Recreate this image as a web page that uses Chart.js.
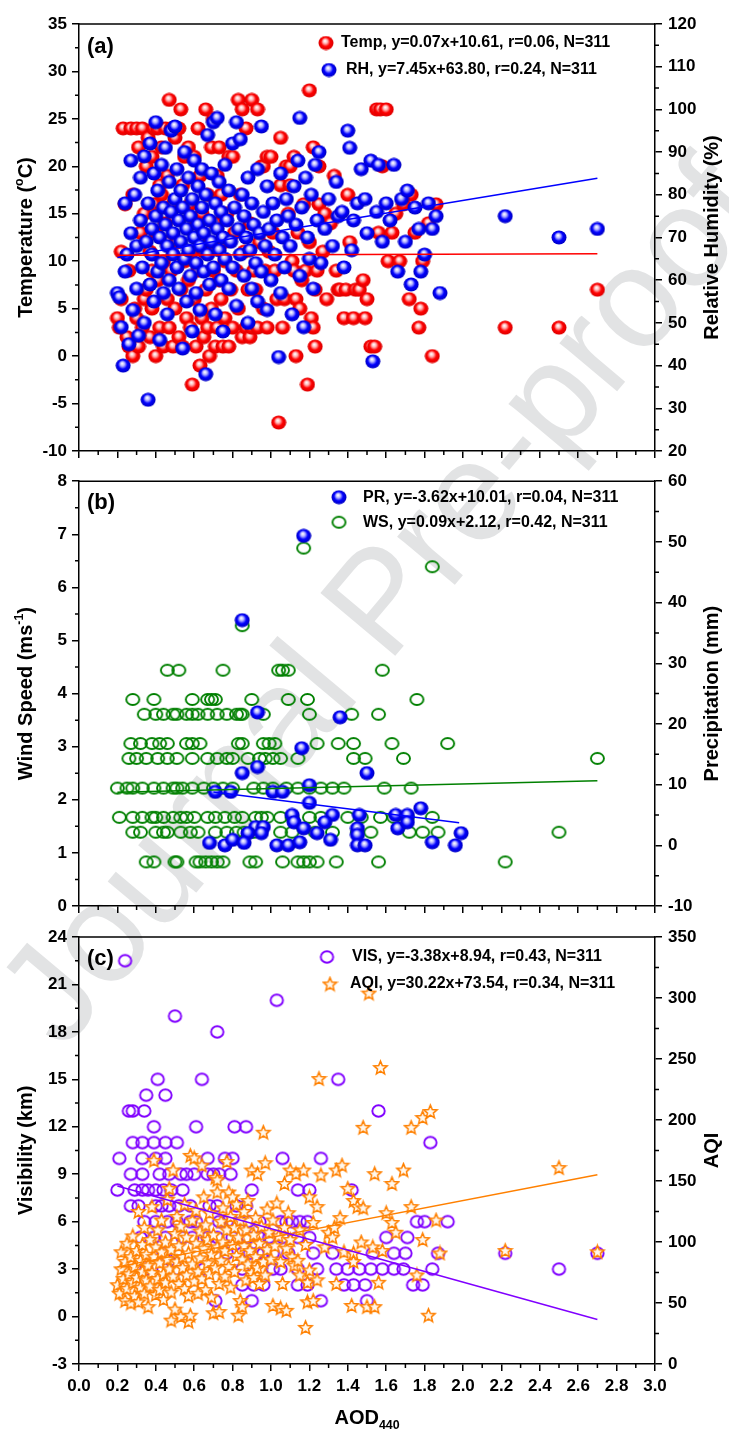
<!DOCTYPE html>
<html>
<head>
<meta charset="utf-8">
<script src="https://cdn.jsdelivr.net/npm/chart.js@4.4.0/dist/chart.umd.min.js"></script>
<style>
html, body { margin: 0; padding: 0; background: #fff; }
#page { position: relative; width: 729px; height: 1431px; overflow: hidden; }
#wm { position: absolute; left: 378px; top: 600px; transform: translate(-50%, -50%) rotate(-50deg);
      font: 142px 'Liberation Sans', Arial, sans-serif; color: #e2e3e4; white-space: nowrap; }
.panel { position: absolute; left: 0; }
</style>
</head>
<body>
<div id="page">
  <div id="wm">Journal Pre-proof</div>
  <canvas id="chartA" class="panel" width="729" height="470" style="top:0"></canvas>
  <canvas id="chartB" class="panel" width="729" height="465" style="top:465px"></canvas>
  <canvas id="chartC" class="panel" width="729" height="511" style="top:920px"></canvas>
</div>
<script>
/* AOD440 vs. meteorology / visibility / AQI — three stacked scatter panels */

const FONT = "'Liberation Sans', Arial, sans-serif";

// x axis (AOD440)
const xTicks = [0, 0.2, 0.4, 0.6, 0.8, 1.0, 1.2, 1.4, 1.6, 1.8, 2.0, 2.2, 2.4, 2.6, 2.8, 3.0];
const xMinor = [0.1, 0.3, 0.5, 0.7, 0.9, 1.1, 1.3, 1.5, 1.7, 1.9, 2.1, 2.3, 2.5, 2.7, 2.9];

// panel (a)
const tempTicks = [-10, -5, 0, 5, 10, 15, 20, 25, 30, 35];
const tempMinor = [-7.5, -2.5, 2.5, 7.5, 12.5, 17.5, 22.5, 27.5, 32.5];
const rhTicks = [20, 30, 40, 50, 60, 70, 80, 90, 100, 110, 120];
const rhMinor = [25, 35, 45, 55, 65, 75, 85, 95, 105, 115];
const tempPts = [
  [0.20,4],[0.21,3],[0.22,11],[0.23,24],[0.24,16],[0.25,2],[0.26,1],[0.27,24],[0.28,0],[0.29,5],[0.30,24],[0.31,22],
  [0.32,13],[0.33,3],[0.33,24],[0.34,6],[0.35,7],[0.35,20],[0.22,6],[0.26,9],[0.28,17],[0.30,4],[0.31,1],[0.34,15],
  [0.36,23],[0.37,2],[0.37,11],[0.38,21],[0.38,5],[0.39,24],[0.40,0],[0.40,13],[0.41,8],[0.41,24],[0.42,3],[0.43,22],
  [0.43,17],[0.44,1],[0.44,10],[0.45,14],[0.45,24],[0.46,6],[0.46,19],[0.47,27],[0.47,3],[0.48,9],[0.48,24],[0.49,1],
  [0.49,16],[0.50,23],[0.50,5],[0.38,9],[0.42,18],[0.46,12],[0.39,16],
  [0.51,12],[0.52,24],[0.52,2],[0.53,26],[0.53,7],[0.54,1],[0.54,18],[0.55,21],[0.55,10],[0.56,4],[0.56,14],[0.57,22],
  [0.57,8],[0.58,3],[0.58,16],[0.59,-3],[0.59,11],[0.60,21],[0.60,6],[0.61,1],[0.61,13],[0.62,24],[0.62,9],[0.63,-1],
  [0.63,19],[0.64,4],[0.64,15],[0.65,2],[0.65,11],[0.66,26],[0.66,7],[0.67,3],[0.67,17],[0.68,0],[0.68,12],[0.69,22],
  [0.69,5],[0.70,25],[0.70,9],
  [0.71,1],[0.71,14],[0.72,3],[0.72,19],[0.73,22],[0.73,8],[0.74,6],[0.74,17],[0.75,1],[0.75,12],[0.76,4],[0.76,10],
  [0.77,15],[0.78,21],[0.78,1],[0.79,7],[0.80,21],[0.80,3],[0.81,13],[0.82,9],[0.83,27],[0.83,5],[0.84,17],[0.85,26],
  [0.85,2],[0.86,11],[0.87,24],[0.87,3],[0.88,7],[0.89,14],[0.89,2],[0.90,27],[0.90,3],
  [0.91,9],[0.92,7],[0.93,26],[0.93,3],[0.94,12],[0.95,20],[0.96,20],[0.96,5],[0.97,9],[0.98,21],[0.98,3],[0.99,11],
  [1.00,21],[1.01,13],[1.02,9],[1.03,6],[1.04,-7],[1.05,23],[1.05,18],[1.06,3],[1.07,6],[1.08,20],[1.09,15],[1.10,18],
  [1.10,20],[1.11,10],[1.12,21],[1.12,9],[1.13,0],[1.13,6],[1.14,13],[1.15,5],[1.16,8],[1.17,16],[1.18,9],[1.19,-3],
  [1.20,28],[1.20,12],[1.21,4],[1.22,22],[1.22,3],[1.23,1],[1.23,7],[1.24,9],[1.25,16],[1.25,20],[1.27,11],[1.28,15],
  [1.29,6],
  [1.31,14],[1.33,19],[1.34,9],[1.35,7],[1.36,7],[1.38,4],[1.39,7],[1.40,17],[1.41,12],[1.43,4],[1.44,7],[1.46,7],
  [1.48,8],[1.49,4],[1.50,6],[1.52,1],[1.54,1],[1.55,26],[1.56,13],[1.57,26],[1.58,20],[1.60,26],[1.61,10],[1.63,13],
  [1.65,15],[1.67,10],[1.69,16],[1.72,6],[1.73,17],[1.75,13],[1.77,3],[1.78,5],[1.79,10],[1.82,14],[1.84,0],[1.86,16],
  [2.22,3],[2.50,3],[2.70,7]
];
const rhPts = [
  [0.20,57],[0.21,56],[0.22,49],[0.23,40],[0.24,78],[0.24,62],[0.25,66],[0.26,45],[0.27,88],[0.27,71],[0.28,53],[0.29,80],
  [0.30,68],[0.30,58],[0.31,47],[0.32,84],[0.32,74],[0.33,63],[0.34,50],[0.34,89],[0.35,69],[0.36,32],[0.36,78],[0.37,59],
  [0.37,92],[0.38,72],[0.38,66],[0.39,85],[0.39,55],[0.40,75],[0.40,97],[0.41,62],[0.41,81],[0.42,70],[0.42,46],[0.43,87],
  [0.43,64],[0.44,77],[0.44,57],[0.45,73],[0.45,91],[0.46,68],[0.46,52],[0.47,83],[0.47,60],[0.48,76],[0.48,95],[0.49,66],
  [0.49,71],[0.50,96],[0.50,79],[0.51,63],[0.51,86],[0.52,58],[0.52,74],[0.53,69],[0.53,81],[0.54,44],[0.54,77],[0.55,65],
  [0.55,90],[0.56,72],[0.56,55],[0.57,84],[0.57,67],[0.58,75],[0.58,61],[0.59,79],[0.59,48],[0.60,70],[0.60,88],[0.61,64],
  [0.61,57],[0.62,82],[0.62,73],[0.63,68],[0.63,53],[0.64,77],[0.64,86],[0.65,62],[0.65,71],[0.66,38],[0.66,80],[0.67,66],
  [0.67,94],[0.68,74],[0.68,59],[0.69,85],[0.69,69],[0.70,97],[0.70,63],[0.71,78],[0.71,52],[0.72,98],[0.72,72],[0.73,67],
  [0.73,83],[0.74,60],[0.74,76],[0.75,70],[0.75,48],[0.76,87],[0.76,65],[0.77,74],[0.78,58],[0.78,81],[0.79,69],[0.80,92],
  [0.80,63],[0.81,77],[0.82,97],[0.82,54],[0.83,72],[0.84,93],[0.84,66],[0.85,80],[0.86,61],[0.86,75],[0.87,70],[0.88,84],
  [0.88,50],[0.89,67],[0.90,78],[0.90,58],[0.91,73],[0.92,64],[0.93,86],[0.93,55],[0.94,71],[0.95,96],[0.95,62],[0.96,76],
  [0.97,68],[0.98,82],[0.98,53],[0.99,72],[1.00,60],[1.01,78],[1.02,66],[1.03,74],[1.04,42],[1.05,85],[1.05,57],[1.06,70],
  [1.07,63],[1.08,79],[1.09,75],[1.10,68],[1.11,52],[1.12,82],[1.13,73],[1.14,88],[1.15,98],[1.15,61],[1.16,77],[1.17,49],
  [1.18,84],[1.19,70],[1.20,65],[1.21,80],[1.22,58],[1.23,87],[1.24,74],[1.25,90],[1.26,64],[1.28,72],[1.30,79],[1.32,68],
  [1.34,83],[1.35,75],[1.37,76],[1.38,63],[1.40,95],[1.41,91],[1.42,67],[1.43,74],[1.45,78],[1.47,86],[1.49,79],[1.50,71],
  [1.52,88],[1.53,41],[1.55,76],[1.56,87],[1.58,69],[1.60,78],[1.62,74],[1.64,87],[1.66,62],[1.68,79],[1.70,69],[1.71,81],
  [1.73,59],[1.75,77],[1.77,72],[1.78,62],[1.80,66],[1.82,78],[1.84,72],[1.86,75],[1.88,57],[2.22,75],[2.50,70],[2.70,72]
];
const tempFitX = [0.2, 2.7];
const tempFitY = [10.62, 10.80];
const rhFitX = [0.2, 2.7];
const rhFitY = [65.3, 83.9];

// panel (b)
const wsTicks = [0, 1, 2, 3, 4, 5, 6, 7, 8];
const wsMinor = [0.5, 1.5, 2.5, 3.5, 4.5, 5.5, 6.5, 7.5];
const prTicks = [-10, 0, 10, 20, 30, 40, 50, 60];
const prMinor = [-5, 5, 15, 25, 35, 45, 55];
const wsPts = [
  [0.85,5.28],[1.17,6.74],[1.84,6.39],
  [0.46,4.44],[0.52,4.44],[0.75,4.44],[1.04,4.44],[1.06,4.44],[1.09,4.44],[1.58,4.44],
  [0.28,3.89],[0.39,3.89],[0.59,3.89],[0.67,3.89],[0.69,3.89],[0.71,3.89],[0.90,3.89],[1.09,3.89],[1.19,3.89],[1.76,3.89],
  [0.34,3.61],[0.44,3.61],[0.49,3.61],[0.51,3.61],[0.56,3.61],[0.62,3.61],[0.67,3.61],[0.72,3.61],[0.77,3.61],[0.82,3.61],
  [0.84,3.61],[0.85,3.61],[0.96,3.61],[1.20,3.61],[1.42,3.61],[1.56,3.61],[0.40,3.61],[0.59,3.61],
  [0.27,3.06],[0.32,3.06],[0.38,3.06],[0.42,3.06],[0.46,3.06],[0.56,3.06],[0.59,3.06],[0.63,3.06],[0.83,3.06],[0.85,3.06],
  [0.96,3.06],[0.99,3.06],[1.02,3.06],[1.24,3.06],[1.35,3.06],[1.43,3.06],[1.63,3.06],[1.92,3.06],
  [0.26,2.78],[0.30,2.78],[0.35,2.78],[0.41,2.78],[0.46,2.78],[0.51,2.78],[0.59,2.78],[0.67,2.78],[0.72,2.78],[0.77,2.78],
  [0.80,2.78],[0.88,2.78],[0.94,2.78],[0.97,2.78],[1.01,2.78],[1.05,2.78],[1.14,2.78],[1.43,2.78],[1.49,2.78],[1.69,2.78],
  [2.70,2.78],
  [0.20,2.22],[0.25,2.22],[0.28,2.22],[0.33,2.22],[0.39,2.22],[0.44,2.22],[0.49,2.22],[0.51,2.22],[0.54,2.22],[0.59,2.22],
  [0.65,2.22],[0.70,2.22],[0.75,2.22],[0.80,2.22],[0.91,2.22],[0.96,2.22],[1.01,2.22],[1.08,2.22],[1.14,2.22],[1.20,2.22],
  [1.26,2.22],[1.32,2.22],[1.38,2.22],[1.59,2.22],[1.73,2.22],
  [0.21,1.67],[0.28,1.67],[0.33,1.67],[0.38,1.67],[0.40,1.67],[0.44,1.67],[0.49,1.67],[0.53,1.67],[0.56,1.67],[0.60,1.67],
  [0.67,1.67],[0.71,1.67],[0.76,1.67],[0.81,1.67],[0.85,1.67],[0.92,1.67],[0.95,1.67],[0.98,1.67],[1.05,1.67],[1.11,1.67],
  [1.20,1.67],[1.26,1.67],[1.40,1.67],[1.47,1.67],[1.57,1.67],[1.64,1.67],[1.71,1.67],[1.84,1.67],
  [0.28,1.39],[0.32,1.39],[0.40,1.39],[0.44,1.39],[0.46,1.39],[0.53,1.39],[0.58,1.39],[0.62,1.39],[0.71,1.39],[0.77,1.39],
  [0.82,1.39],[0.86,1.39],[0.91,1.39],[1.05,1.39],[1.11,1.39],[1.23,1.39],[1.32,1.39],[1.45,1.39],[1.52,1.39],[1.72,1.39],
  [1.79,1.39],[1.87,1.39],[2.50,1.39],
  [0.35,0.83],[0.39,0.83],[0.50,0.83],[0.51,0.83],[0.61,0.83],[0.63,0.83],[0.66,0.83],[0.69,0.83],[0.72,0.83],[0.75,0.83],
  [0.89,0.83],[0.92,0.83],[1.06,0.83],[1.14,0.83],[1.17,0.83],[1.20,0.83],[1.24,0.83],[1.34,0.83],[1.56,0.83],[2.22,0.83]
];
const prPts = [
  [0.85,37.1],[1.17,51.0],[0.93,21.9],[1.36,21.1],[1.16,16.0],[0.85,11.9],[0.93,12.9],[1.50,11.9],[0.71,8.8],[0.79,8.8],
  [1.01,8.8],[1.06,8.8],[1.20,9.9],[1.20,7.0],[1.78,6.1],[1.11,5.0],[1.12,3.8],[1.32,5.0],[1.46,5.0],[1.65,5.0],
  [1.71,5.0],[1.28,3.8],[1.66,2.8],[1.71,3.8],[0.92,3.0],[0.96,3.0],[0.88,2.0],[0.95,2.0],[1.17,2.8],[1.24,2.0],
  [1.45,2.8],[1.45,1.7],[1.99,2.0],[0.68,0.4],[0.76,0.0],[0.80,0.9],[0.86,0.4],[1.03,0.0],[1.09,0.0],[1.15,0.5],
  [1.31,0.9],[1.45,0.0],[1.49,0.0],[1.84,0.5],[1.96,0.0]
];
const prFitX = [0.70, 1.98];
const prFitY = [8.8, 3.7];
const wsFitX = [0.2, 2.7];
const wsFitY = [2.14, 2.36];

// panel (c)
const visTicks = [-3, 0, 3, 6, 9, 12, 15, 18, 21, 24];
const visMinor = [-1.5, 1.5, 4.5, 7.5, 10.5, 13.5, 16.5, 19.5, 22.5];
const aqiTicks = [0, 50, 100, 150, 200, 250, 300, 350];
const aqiMinor = [25, 75, 125, 175, 225, 275, 325];
const visPts = [
  [0.24,22.5],[1.03,20],[0.50,19],[0.72,18],[0.41,15],[0.64,15],[1.35,15],[0.35,14],[0.45,14],
  [0.26,13],[0.28,13],[0.34,13],[1.56,13],[0.39,12],[0.61,12],[0.81,12],[0.87,12],[1.83,11],
  [0.28,11],[0.33,11],[0.39,11],[0.45,11],[0.51,11],
  [0.21,10],[0.33,10],[0.40,10],[0.45,10],[0.67,10],[0.76,10],[0.80,10],[1.06,10],[1.26,10],
  [0.27,9],[0.33,9],[0.42,9],[0.47,9],[0.53,9],[0.56,9],[0.60,9],[0.67,9],[0.70,9],[0.73,9],[0.79,9],
  [0.20,8],[0.29,8],[0.33,8],[0.36,8],[0.40,8],[0.44,8],[0.48,8],[0.54,8],[0.90,8],[1.14,8],[1.20,8],[1.42,8],
  [0.27,7],[0.31,7],[0.40,7],[0.43,7],[0.47,7],[0.52,7],[0.58,7],[0.68,7],[0.72,7],[0.82,7],[0.87,7],
  [0.34,6],[0.40,6],[0.46,6],[0.51,6],[0.58,6],[0.61,6],[0.73,6],[0.77,6],[0.80,6],[0.88,6],[0.94,6],[1.05,6],
  [1.08,6],[1.11,6],[1.15,6],[1.19,6],[1.76,6],[1.80,6],[1.92,6],
  [0.32,5],[0.39,5],[0.45,5],[0.54,5],[0.59,5],[0.67,5],[0.72,5],[0.80,5],[0.88,5],[0.94,5],[0.99,5],[1.06,5],
  [1.14,5],[1.20,5],[1.60,5],[1.71,5],
  [0.44,4],[0.51,4],[0.77,4],[0.85,4],[0.89,4],[0.93,4],[0.96,4],[1.01,4],[1.09,4],[1.22,4],[1.32,4],[1.53,4],
  [1.64,4],[1.70,4],[1.87,4],[2.22,4],[2.70,4],
  [0.35,3],[0.44,3],[0.51,3],[0.65,3],[0.85,3],[1.01,3],[1.05,3],[1.14,3],[1.24,3],[1.34,3],[1.40,3],[1.46,3],
  [1.52,3],[1.58,3],[1.64,3],[1.69,3],[1.84,3],[2.50,3],
  [0.85,2],[0.91,2],[0.96,2],[1.14,2],[1.19,2],[1.38,2],[1.43,2],[1.49,2],[1.74,2],[1.79,2],
  [0.71,1],[0.90,1],[1.26,1],[1.50,1]
];
const aqiPts = [
  [0.20,65],[0.21,58],[0.22,78],[0.22,92],[0.23,70],[0.24,52],[0.24,84],[0.25,99],[0.25,62],[0.26,74],[0.27,50],[0.27,88],
  [0.28,67],[0.28,105],[0.29,56],[0.29,80],[0.30,93],[0.30,71],[0.31,51],[0.31,125],[0.32,63],[0.32,85],[0.33,76],[0.33,98],
  [0.34,58],[0.34,112],[0.35,69],[0.35,90],[0.36,81],[0.36,47],[0.37,102],[0.37,64],[0.38,129],[0.38,75],[0.39,167],[0.39,88],
  [0.40,57],[0.40,96],[0.41,70],[0.41,110],[0.42,83],[0.42,61],[0.43,118],[0.43,92],[0.44,74],[0.44,53],[0.45,100],[0.45,67],
  [0.46,86],[0.46,135],[0.47,144],[0.47,78],[0.48,59],[0.48,94],[0.48,36],[0.49,159],[0.49,72],[0.50,107],[0.50,45],[0.51,84],
  [0.51,121],[0.52,66],[0.52,97],[0.53,39],[0.53,113],[0.54,79],[0.54,88],[0.55,131],[0.55,62],[0.56,104],[0.56,73],[0.57,91],
  [0.57,56],[0.57,35],[0.58,171],[0.58,40],[0.59,82],[0.59,118],[0.60,169],[0.60,68],[0.61,99],[0.61,126],[0.62,76],[0.62,58],
  [0.63,109],[0.63,87],[0.64,163],[0.64,70],[0.65,95],[0.65,137],[0.66,61],[0.66,114],[0.67,83],[0.67,102],[0.68,74],[0.68,124],
  [0.69,90],[0.69,55],[0.70,42],[0.70,106],[0.71,153],[0.71,79],[0.72,151],[0.72,141],[0.72,96],[0.73,43],[0.73,66],[0.74,117],
  [0.74,85],[0.75,100],[0.75,128],[0.76,72],[0.76,93],[0.77,166],[0.77,110],[0.78,141],[0.78,80],[0.79,121],[0.79,63],[0.80,137],
  [0.80,98],[0.81,76],[0.81,112],[0.82,89],[0.82,131],[0.83,40],[0.83,104],[0.84,52],[0.84,118],[0.85,47],[0.85,86],[0.86,125],
  [0.86,97],[0.87,69],[0.87,110],[0.88,82],[0.88,134],[0.89,93],[0.90,159],[0.90,75],[0.91,71],[0.91,106],[0.92,88],[0.92,120],
  [0.93,156],[0.93,79],[0.94,99],[0.94,66],[0.95,113],[0.96,190],[0.96,84],[0.97,165],[0.97,73],[0.98,127],[0.98,94],[0.99,108],
  [1.00,86],[1.01,48],[1.01,118],[1.02,97],[1.03,132],[1.04,105],[1.05,46],[1.05,84],[1.06,66],[1.07,148],[1.07,112],[1.08,44],
  [1.08,95],[1.09,124],[1.10,159],[1.10,102],[1.11,88],[1.12,81],[1.13,156],[1.14,85],[1.15,73],[1.15,110],[1.17,159],[1.18,98],
  [1.18,30],[1.19,51],[1.19,67],[1.20,77],[1.20,137],[1.22,52],[1.22,116],[1.24,129],[1.24,69],[1.25,234],[1.26,155],[1.28,96],
  [1.30,108],[1.32,104],[1.33,112],[1.34,159],[1.34,66],[1.36,120],[1.37,163],[1.38,92],[1.40,144],[1.42,48],[1.43,91],[1.43,84],
  [1.43,134],[1.45,129],[1.47,100],[1.48,128],[1.48,194],[1.50,47],[1.51,304],[1.53,96],[1.54,156],[1.54,47],[1.56,67],[1.57,243],
  [1.58,93],[1.60,124],[1.63,116],[1.63,148],[1.65,108],[1.69,159],[1.73,129],[1.73,194],[1.76,73],[1.79,102],[1.79,202],[1.82,40],
  [1.83,207],[1.86,118],[1.88,91],[2.22,93],[2.50,161],[2.70,92]
];
const visFitX = [0.2, 2.7];
const visFitY = [8.26, -0.19];
const aqiFitX = [0.2, 2.7];
const aqiFitY = [79.6, 155.1];

// ---------- marker images ----------
function ballImg(light, body, dark) {
  const c = document.createElement('canvas');
  c.width = 16; c.height = 15;
  const g = c.getContext('2d');
  const grad = g.createRadialGradient(7, 5.3, 0.3, 8, 7.5, 8);
  grad.addColorStop(0, '#ffffff');
  grad.addColorStop(0.25, light);
  grad.addColorStop(0.55, body);
  grad.addColorStop(1, dark);
  g.fillStyle = grad;
  g.beginPath(); g.ellipse(8, 7.5, 7.5, 7, 0, 0, Math.PI * 2); g.fill();
  return c;
}
function ringImg(color, rx, ry) {
  const c = document.createElement('canvas');
  c.width = Math.ceil(rx * 2 + 4); c.height = Math.ceil(ry * 2 + 4);
  const g = c.getContext('2d');
  g.strokeStyle = color; g.lineWidth = 1.9;
  g.beginPath(); g.ellipse(c.width / 2, c.height / 2, rx, ry, 0, 0, Math.PI * 2); g.stroke();
  return c;
}
function starImg(color) {
  const c = document.createElement('canvas');
  c.width = 17; c.height = 17;
  const g = c.getContext('2d');
  g.beginPath();
  for (let i = 0; i < 10; i++) {
    const r = i % 2 ? 3.1 : 7;
    const a = -Math.PI / 2 + i * Math.PI / 5;
    const px = 8.5 + r * Math.cos(a), py = 9.1 + r * Math.sin(a);
    if (i) g.lineTo(px, py); else g.moveTo(px, py);
  }
  g.closePath();
  g.fillStyle = '#fff8ee'; g.fill();
  g.strokeStyle = color; g.lineWidth = 1.5; g.stroke();
  return c;
}
const redBall = ballImg('#ffb4b4', '#ff0000', '#d40000');
const blueBall = ballImg('#b4b4ff', '#0000ff', '#0000b4');
const greenRing = ringImg('#008000', 6.5, 5.5);
const purpleRing = ringImg('#8000ff', 6.2, 5.7);
const orangeStar = starImg('#ff8000');

// ---------- helpers ----------
const pts = arr => arr.map(p => ({ x: p[0], y: p[1] }));
const line = (xs, ys) => xs.map((x, i) => ({ x: x, y: ys[i] }));

function drawRich(ctx, parts, x, y, rot, size) {
  const fnt = s => 'bold ' + s + 'px ' + FONT;
  ctx.save();
  ctx.translate(x, y); ctx.rotate(rot);
  let w = 0;
  parts.forEach(p => { ctx.font = fnt(p[1] ? size * 0.62 : size); w += ctx.measureText(p[0]).width; });
  let cx = -w / 2;
  ctx.textBaseline = 'middle'; ctx.textAlign = 'left'; ctx.fillStyle = '#000';
  parts.forEach(p => {
    ctx.font = fnt(p[1] ? size * 0.62 : size);
    const dy = p[1] === 1 ? -size * 0.32 : p[1] === -1 ? size * 0.38 : 0;
    ctx.fillText(p[0], cx, dy);
    cx += ctx.measureText(p[0]).width;
  });
  ctx.restore();
}

const frameAndMinor = {
  id: 'frameAndMinor',
  afterDraw(chart, args, opts) {
    const ctx = chart.ctx, a = chart.chartArea;
    ctx.save();
    ctx.strokeStyle = '#000'; ctx.lineWidth = 1.5;
    ctx.beginPath(); ctx.moveTo(a.left - 0.75, a.top); ctx.lineTo(a.right + 0.75, a.top); ctx.stroke();
    (opts.minor || []).forEach(m => {
      const s = chart.scales[m[0]];
      ctx.beginPath();
      m[1].forEach(v => {
        const p = s.getPixelForValue(v);
        if (m[0] === 'x') { ctx.moveTo(p, a.bottom); ctx.lineTo(p, a.bottom + 4); }
        else if (m[0] === 'y') { ctx.moveTo(a.left, p); ctx.lineTo(a.left - 4, p); }
        else { ctx.moveTo(a.right, p); ctx.lineTo(a.right + 4, p); }
      });
      ctx.stroke();
    });
    ctx.restore();
  }
};

const panelText = {
  id: 'panelText',
  afterDraw(chart, args, opts) {
    const ctx = chart.ctx, a = chart.chartArea;
    const midY = (a.top + a.bottom) / 2;
    if (opts.leftTitle) drawRich(ctx, opts.leftTitle, 26, midY, -Math.PI / 2, 20);
    if (opts.rightTitle) drawRich(ctx, opts.rightTitle, 712, midY, -Math.PI / 2, 20);
    if (opts.bottomTitle) drawRich(ctx, opts.bottomTitle, (a.left + a.right) / 2, a.bottom + 54, 0, 20);
    ctx.save();
    ctx.fillStyle = '#000'; ctx.textBaseline = 'middle'; ctx.textAlign = 'left';
    ctx.font = 'bold 22px ' + FONT;
    ctx.fillText(opts.tag, 87, a.top + opts.tagDy);
    ctx.font = 'bold 16px ' + FONT;
    opts.items.forEach(it => {
      ctx.drawImage(it.img, it.mx - it.img.width / 2, a.top + it.dy - it.img.height / 2);
      ctx.fillText(it.text, it.tx, a.top + it.dy);
    });
    ctx.restore();
  }
};

function yAxis(min, max, ticks, pos, width) {
  return {
    type: 'linear', position: pos, min: min, max: max,
    afterBuildTicks: s => { s.ticks = ticks.map(v => ({ value: v })); },
    afterFit: s => { s.width = width; },
    ticks: { autoSkip: false, color: '#000', padding: pos === 'left' ? 5 : 6,
             font: { family: FONT, size: 17, weight: 'bold' }, callback: v => String(v) },
    grid: { drawOnChartArea: false, drawTicks: true, tickLength: 7, color: '#000', lineWidth: 1.5 },
    border: { display: true, color: '#000', width: 1.5 }
  };
}
function xAxis(height, labels) {
  return {
    type: 'linear', position: 'bottom', min: 0, max: 3,
    afterBuildTicks: s => { s.ticks = xTicks.map(v => ({ value: v })); },
    afterFit: s => { s.height = height; },
    ticks: { display: labels, autoSkip: false, maxRotation: 0, color: '#000', padding: 5,
             font: { family: FONT, size: 17, weight: 'bold' }, callback: v => v.toFixed(1) },
    grid: { drawOnChartArea: false, drawTicks: true, tickLength: 7, color: '#000', lineWidth: 1.5 },
    border: { display: true, color: '#000', width: 1.5 }
  };
}
function scatterSet(data, img, axis, order) {
  return { data: pts(data), yAxisID: axis, pointStyle: img, pointRadius: 7, pointHoverRadius: 7,
           showLine: false, order: order };
}
function fitSet(xs, ys, color, axis) {
  return { data: line(xs, ys), yAxisID: axis, showLine: true, borderColor: color, borderWidth: 1.5,
           pointRadius: 0, fill: false, order: 0 };
}
function makeChart(id, padTop, datasets, scales, minor, text) {
  return new Chart(document.getElementById(id), {
    type: 'scatter',
    data: { datasets: datasets },
    options: {
      responsive: false, animation: false, devicePixelRatio: 1,
      layout: { autoPadding: false, padding: { top: padTop, left: 0, right: 0, bottom: 0 } },
      scales: scales,
      plugins: { legend: { display: false }, tooltip: { enabled: false },
                 frameAndMinor: { minor: minor }, panelText: text }
    },
    plugins: [frameAndMinor, panelText]
  });
}

// ---------- panel (a) ----------
makeChart('chartA', 24, [
  fitSet(tempFitX, tempFitY, '#ff0000', 'y'),
  fitSet(rhFitX, rhFitY, '#0000ff', 'y1'),
  scatterSet(rhPts, blueBall, 'y1', 1),
  scatterSet(tempPts, redBall, 'y', 2)
], {
  x: xAxis(19, false),
  y: yAxis(-10, 35, tempTicks, 'left', 79),
  y1: yAxis(20, 120, rhTicks, 'right', 74)
}, [['x', xMinor], ['y', tempMinor], ['y1', rhMinor]], {
  tag: '(a)', tagDy: 23,
  leftTitle: [['Temperature (', 0], ['o', 1], ['C)', 0]],
  rightTitle: [['Relative Humidity (%)', 0]],
  items: [
    { img: redBall, mx: 326, tx: 341, dy: 19, text: 'Temp, y=0.07x+10.61, r=0.06, N=311' },
    { img: blueBall, mx: 329, tx: 346, dy: 46, text: 'RH, y=7.45x+63.80, r=0.24, N=311' }
  ]
});

// ---------- panel (b) ----------
makeChart('chartB', 16, [
  fitSet(prFitX, prFitY, '#0000ff', 'y1'),
  fitSet(wsFitX, wsFitY, '#008000', 'y'),
  scatterSet(prPts, blueBall, 'y1', 1),
  scatterSet(wsPts, greenRing, 'y', 2)
], {
  x: xAxis(24, false),
  y: yAxis(0, 8, wsTicks, 'left', 79),
  y1: yAxis(-10, 60, prTicks, 'right', 74)
}, [['x', xMinor], ['y', wsMinor], ['y1', prMinor]], {
  tag: '(b)', tagDy: 22,
  leftTitle: [['Wind Speed (ms', 0], ['-1', 1], [')', 0]],
  rightTitle: [['Precipitation (mm)', 0]],
  items: [
    { img: blueBall, mx: 339, tx: 363, dy: 16, text: 'PR, y=-3.62x+10.01, r=0.04, N=311' },
    { img: greenRing, mx: 339, tx: 363, dy: 41, text: 'WS, y=0.09x+2.12, r=0.42, N=311' }
  ]
});

// ---------- panel (c) ----------
makeChart('chartC', 17, [
  fitSet(visFitX, visFitY, '#8000ff', 'y'),
  fitSet(aqiFitX, aqiFitY, '#ff8000', 'y1'),
  scatterSet(aqiPts, orangeStar, 'y1', 1),
  scatterSet(visPts, purpleRing, 'y', 2)
], {
  x: xAxis(67, true),
  y: yAxis(-3, 24, visTicks, 'left', 79),
  y1: yAxis(0, 350, aqiTicks, 'right', 74)
}, [['x', xMinor], ['y', visMinor], ['y1', aqiMinor]], {
  tag: '(c)', tagDy: 22,
  leftTitle: [['Visibility (km)', 0]],
  rightTitle: [['AQI', 0]],
  bottomTitle: [['AOD', 0], ['440', -1]],
  items: [
    { img: purpleRing, mx: 327, tx: 352, dy: 20, text: 'VIS, y=-3.38x+8.94, r=0.43, N=311' },
    { img: orangeStar, mx: 330, tx: 350, dy: 47, text: 'AQI, y=30.22x+73.54, r=0.34, N=311' }
  ]
});
</script>
</body>
</html>
